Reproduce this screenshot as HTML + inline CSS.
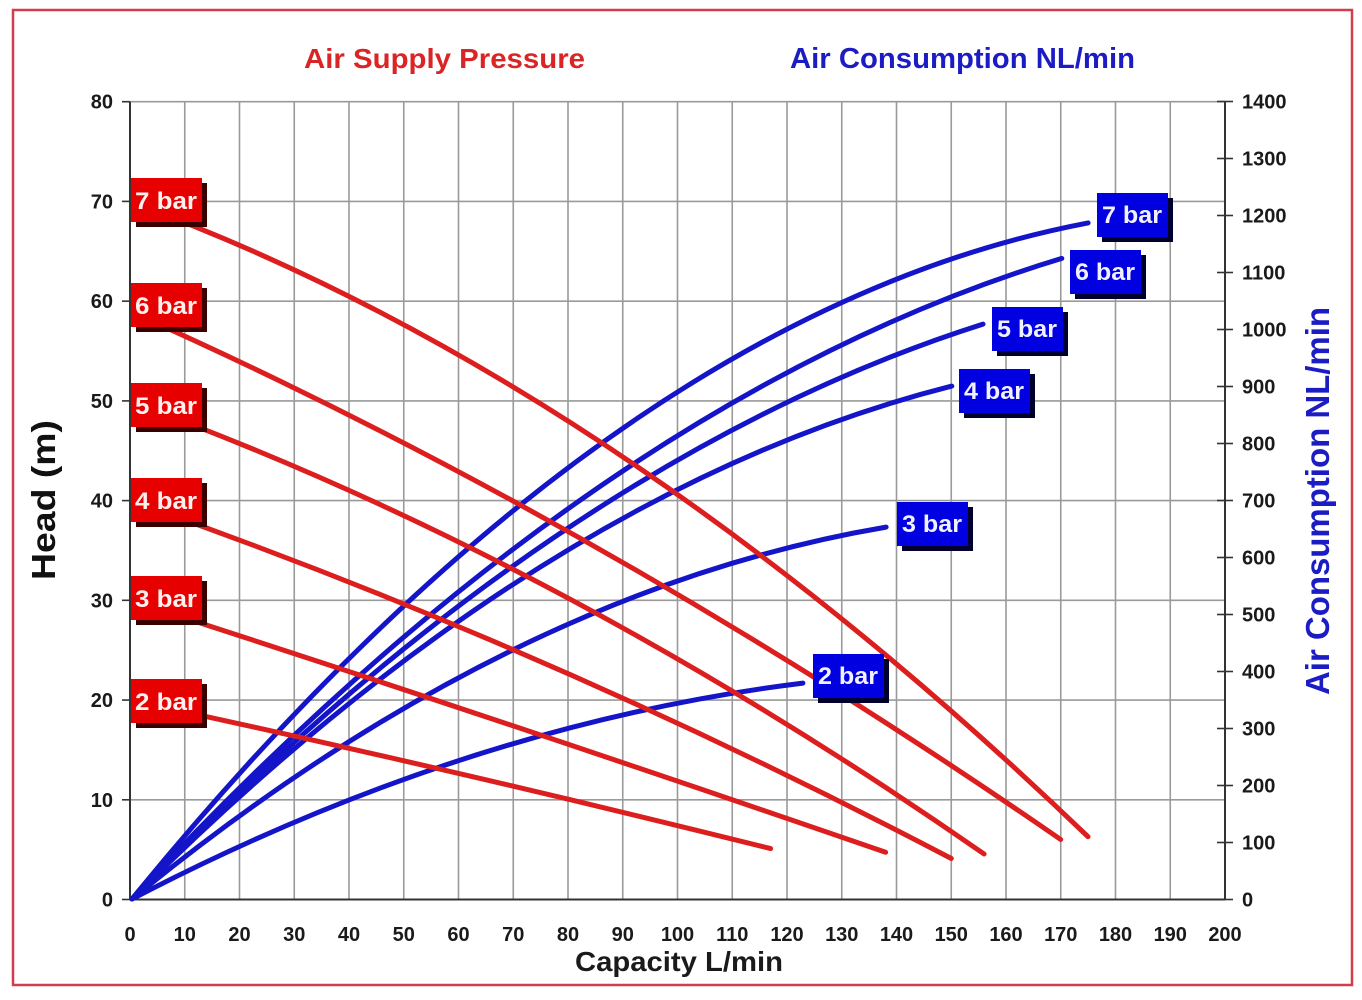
<!DOCTYPE html>
<html>
<head>
<meta charset="utf-8">
<style>
  html, body { margin:0; padding:0; background:#ffffff; }
  body { width:1362px; height:1000px; overflow:hidden; }
  svg { display:block; }
  text { font-family: "Liberation Sans", Arial, sans-serif; font-weight: bold; }
</style>
</head>
<body>
<svg width="1362" height="1000" viewBox="0 0 1362 1000" xmlns="http://www.w3.org/2000/svg">
  <rect x="0" y="0" width="1362" height="1000" fill="#ffffff"/>
  <rect x="13" y="10" width="1339" height="975" fill="none" stroke="#d23c4b" stroke-width="2.5"/>

  <text x="304" y="68" font-size="28" fill="#d92525" textLength="281" lengthAdjust="spacingAndGlyphs">Air Supply Pressure</text>
  <text x="790" y="68" font-size="29" fill="#1c1cc4" textLength="345" lengthAdjust="spacingAndGlyphs">Air Consumption NL/min</text>

  <g stroke="#9a9a9a" stroke-width="1.6">
    <line x1="184.75" y1="101.7" x2="184.75" y2="899.5"/>
    <line x1="239.5" y1="101.7" x2="239.5" y2="899.5"/>
    <line x1="294.25" y1="101.7" x2="294.25" y2="899.5"/>
    <line x1="349" y1="101.7" x2="349" y2="899.5"/>
    <line x1="403.75" y1="101.7" x2="403.75" y2="899.5"/>
    <line x1="458.5" y1="101.7" x2="458.5" y2="899.5"/>
    <line x1="513.25" y1="101.7" x2="513.25" y2="899.5"/>
    <line x1="568" y1="101.7" x2="568" y2="899.5"/>
    <line x1="622.75" y1="101.7" x2="622.75" y2="899.5"/>
    <line x1="677.5" y1="101.7" x2="677.5" y2="899.5"/>
    <line x1="732.25" y1="101.7" x2="732.25" y2="899.5"/>
    <line x1="787" y1="101.7" x2="787" y2="899.5"/>
    <line x1="841.75" y1="101.7" x2="841.75" y2="899.5"/>
    <line x1="896.5" y1="101.7" x2="896.5" y2="899.5"/>
    <line x1="951.25" y1="101.7" x2="951.25" y2="899.5"/>
    <line x1="1006" y1="101.7" x2="1006" y2="899.5"/>
    <line x1="1060.75" y1="101.7" x2="1060.75" y2="899.5"/>
    <line x1="1115.5" y1="101.7" x2="1115.5" y2="899.5"/>
    <line x1="1170.25" y1="101.7" x2="1170.25" y2="899.5"/>
    <line x1="130" y1="799.8" x2="1225" y2="799.8"/>
    <line x1="130" y1="700.05" x2="1225" y2="700.05"/>
    <line x1="130" y1="600.3" x2="1225" y2="600.3"/>
    <line x1="130" y1="500.6" x2="1225" y2="500.6"/>
    <line x1="130" y1="400.9" x2="1225" y2="400.9"/>
    <line x1="130" y1="301.15" x2="1225" y2="301.15"/>
    <line x1="130" y1="201.4" x2="1225" y2="201.4"/>
    <line x1="130" y1="101.7" x2="1225" y2="101.7"/>
  </g>

  <g stroke="#333333" stroke-width="2">
    <line x1="130" y1="101.7" x2="130" y2="899.5"/>
    <line x1="130" y1="899.5" x2="1225" y2="899.5"/>
    <line x1="1225" y1="101.5" x2="1225" y2="899.5"/>
  </g>
  <g stroke="#333333" stroke-width="1.6">
    <line x1="122" y1="899.5" x2="130" y2="899.5"/>
    <line x1="122" y1="799.8" x2="130" y2="799.8"/>
    <line x1="122" y1="700.05" x2="130" y2="700.05"/>
    <line x1="122" y1="600.3" x2="130" y2="600.3"/>
    <line x1="122" y1="500.6" x2="130" y2="500.6"/>
    <line x1="122" y1="400.9" x2="130" y2="400.9"/>
    <line x1="122" y1="301.15" x2="130" y2="301.15"/>
    <line x1="122" y1="201.4" x2="130" y2="201.4"/>
    <line x1="122" y1="101.7" x2="130" y2="101.7"/>
  </g>
  <g stroke="#333333" stroke-width="1.6">
    <line x1="1217" y1="899.5" x2="1233" y2="899.5"/>
    <line x1="1217" y1="842.5" x2="1233" y2="842.5"/>
    <line x1="1217" y1="785.5" x2="1233" y2="785.5"/>
    <line x1="1217" y1="728.5" x2="1233" y2="728.5"/>
    <line x1="1217" y1="671.5" x2="1233" y2="671.5"/>
    <line x1="1217" y1="614.5" x2="1233" y2="614.5"/>
    <line x1="1217" y1="557.5" x2="1233" y2="557.5"/>
    <line x1="1217" y1="500.5" x2="1233" y2="500.5"/>
    <line x1="1217" y1="443.5" x2="1233" y2="443.5"/>
    <line x1="1217" y1="386.5" x2="1233" y2="386.5"/>
    <line x1="1217" y1="329.5" x2="1233" y2="329.5"/>
    <line x1="1217" y1="272.5" x2="1233" y2="272.5"/>
    <line x1="1217" y1="215.5" x2="1233" y2="215.5"/>
    <line x1="1217" y1="158.5" x2="1233" y2="158.5"/>
    <line x1="1217" y1="101.5" x2="1233" y2="101.5"/>
  </g>

  <g font-size="20" fill="#1a1a1a" text-anchor="end">
    <text x="113" y="906.5">0</text>
    <text x="113" y="806.8">10</text>
    <text x="113" y="707">20</text>
    <text x="113" y="607.3">30</text>
    <text x="113" y="507.6">40</text>
    <text x="113" y="407.9">50</text>
    <text x="113" y="308.2">60</text>
    <text x="113" y="208.4">70</text>
    <text x="113" y="108.7">80</text>
  </g>
  <g font-size="20" fill="#1a1a1a">
    <text x="1242" y="906.5">0</text>
    <text x="1242" y="849.5">100</text>
    <text x="1242" y="792.5">200</text>
    <text x="1242" y="735.5">300</text>
    <text x="1242" y="678.5">400</text>
    <text x="1242" y="621.5">500</text>
    <text x="1242" y="564.5">600</text>
    <text x="1242" y="507.5">700</text>
    <text x="1242" y="450.5">800</text>
    <text x="1242" y="393.5">900</text>
    <text x="1242" y="336.5">1000</text>
    <text x="1242" y="279.5">1100</text>
    <text x="1242" y="222.5">1200</text>
    <text x="1242" y="165.5">1300</text>
    <text x="1242" y="108.5">1400</text>
  </g>
  <g font-size="20" fill="#1a1a1a" text-anchor="middle">
    <text x="130" y="941">0</text>
    <text x="184.75" y="941">10</text>
    <text x="239.5" y="941">20</text>
    <text x="294.25" y="941">30</text>
    <text x="349" y="941">40</text>
    <text x="403.75" y="941">50</text>
    <text x="458.5" y="941">60</text>
    <text x="513.25" y="941">70</text>
    <text x="568" y="941">80</text>
    <text x="622.75" y="941">90</text>
    <text x="677.5" y="941">100</text>
    <text x="732.25" y="941">110</text>
    <text x="787" y="941">120</text>
    <text x="841.75" y="941">130</text>
    <text x="896.5" y="941">140</text>
    <text x="951.25" y="941">150</text>
    <text x="1006" y="941">160</text>
    <text x="1060.75" y="941">170</text>
    <text x="1115.5" y="941">180</text>
    <text x="1170.25" y="941">190</text>
    <text x="1225" y="941">200</text>
  </g>

  <text x="575" y="971" font-size="28" fill="#1a1a1a" textLength="208" lengthAdjust="spacingAndGlyphs">Capacity L/min</text>
  <text transform="translate(55,500) rotate(-90)" x="0" y="0" font-size="33" fill="#111111" text-anchor="middle" textLength="160" lengthAdjust="spacingAndGlyphs">Head (m)</text>
  <text transform="translate(1329,501) rotate(-90)" x="0" y="0" font-size="33" fill="#1c1cc4" text-anchor="middle" textLength="388" lengthAdjust="spacingAndGlyphs">Air Consumption NL/min</text>

  <g fill="none" stroke="#1414c8" stroke-width="5" stroke-linecap="round">
    <path d="M132,899 Q609.1,314.1 1088.1,222.9"/>
    <path d="M132,899 Q595.9,399 1061.8,258.4"/>
    <path d="M132,899 Q556.5,459.3 983,324.1"/>
    <path d="M132,899 Q540.9,490 951.8,386.1"/>
    <path d="M132,899 Q508,591 886.1,527.1"/>
    <path d="M132,899 Q466.4,724.8 802.9,683.1"/>
  </g>

  <g fill="none" stroke="#dc1e1e" stroke-width="5" stroke-linecap="round">
    <path d="M134,203.1 Q611,378 1088,836.7"/>
    <path d="M134,313.2 Q597.4,519.6 1060.7,839.5"/>
    <path d="M134,402.8 Q559,558.2 984.1,854"/>
    <path d="M134,502.1 Q542.6,644.6 951.3,858.5"/>
    <path d="M134,601.6 Q509.8,722.6 885.6,852.3"/>
    <path d="M134,700.9 Q452.3,769.2 770.6,848.6"/>
  </g>

  <g>
    <rect x="136" y="183" width="71" height="44" fill="#3a0000"/>
    <rect x="131" y="178" width="71" height="44" fill="#e60000"/>
    <rect x="136" y="288" width="71" height="44" fill="#3a0000"/>
    <rect x="131" y="283" width="71" height="44" fill="#e60000"/>
    <rect x="136" y="388" width="71" height="44" fill="#3a0000"/>
    <rect x="131" y="383" width="71" height="44" fill="#e60000"/>
    <rect x="136" y="483" width="71" height="44" fill="#3a0000"/>
    <rect x="131" y="478" width="71" height="44" fill="#e60000"/>
    <rect x="136" y="581" width="71" height="44" fill="#3a0000"/>
    <rect x="131" y="576" width="71" height="44" fill="#e60000"/>
    <rect x="136" y="684" width="71" height="44" fill="#3a0000"/>
    <rect x="131" y="679" width="71" height="44" fill="#e60000"/>
  </g>
  <g font-size="24" fill="#fff0f0">
    <text x="135" y="209" textLength="62" lengthAdjust="spacingAndGlyphs">7 bar</text>
    <text x="135" y="314" textLength="62" lengthAdjust="spacingAndGlyphs">6 bar</text>
    <text x="135" y="414" textLength="62" lengthAdjust="spacingAndGlyphs">5 bar</text>
    <text x="135" y="509" textLength="62" lengthAdjust="spacingAndGlyphs">4 bar</text>
    <text x="135" y="607" textLength="62" lengthAdjust="spacingAndGlyphs">3 bar</text>
    <text x="135" y="710" textLength="62" lengthAdjust="spacingAndGlyphs">2 bar</text>
  </g>

  <g>
    <rect x="1102" y="198" width="71" height="44" fill="#00002e"/>
    <rect x="1097" y="193" width="71" height="44" fill="#0000e0"/>
    <rect x="1075" y="255" width="71" height="44" fill="#00002e"/>
    <rect x="1070" y="250" width="71" height="44" fill="#0000e0"/>
    <rect x="997" y="312" width="71" height="44" fill="#00002e"/>
    <rect x="992" y="307" width="71" height="44" fill="#0000e0"/>
    <rect x="964" y="374" width="71" height="44" fill="#00002e"/>
    <rect x="959" y="369" width="71" height="44" fill="#0000e0"/>
    <rect x="902" y="507" width="71" height="44" fill="#00002e"/>
    <rect x="897" y="502" width="71" height="44" fill="#0000e0"/>
    <rect x="818" y="659" width="71" height="44" fill="#00002e"/>
    <rect x="813" y="654" width="71" height="44" fill="#0000e0"/>
  </g>
  <g font-size="24" fill="#f0f0ff">
    <text x="1102" y="223" textLength="60" lengthAdjust="spacingAndGlyphs">7 bar</text>
    <text x="1075" y="280" textLength="60" lengthAdjust="spacingAndGlyphs">6 bar</text>
    <text x="997" y="337" textLength="60" lengthAdjust="spacingAndGlyphs">5 bar</text>
    <text x="964" y="399" textLength="60" lengthAdjust="spacingAndGlyphs">4 bar</text>
    <text x="902" y="532" textLength="60" lengthAdjust="spacingAndGlyphs">3 bar</text>
    <text x="818" y="684" textLength="60" lengthAdjust="spacingAndGlyphs">2 bar</text>
  </g>
</svg>
</body>
</html>
